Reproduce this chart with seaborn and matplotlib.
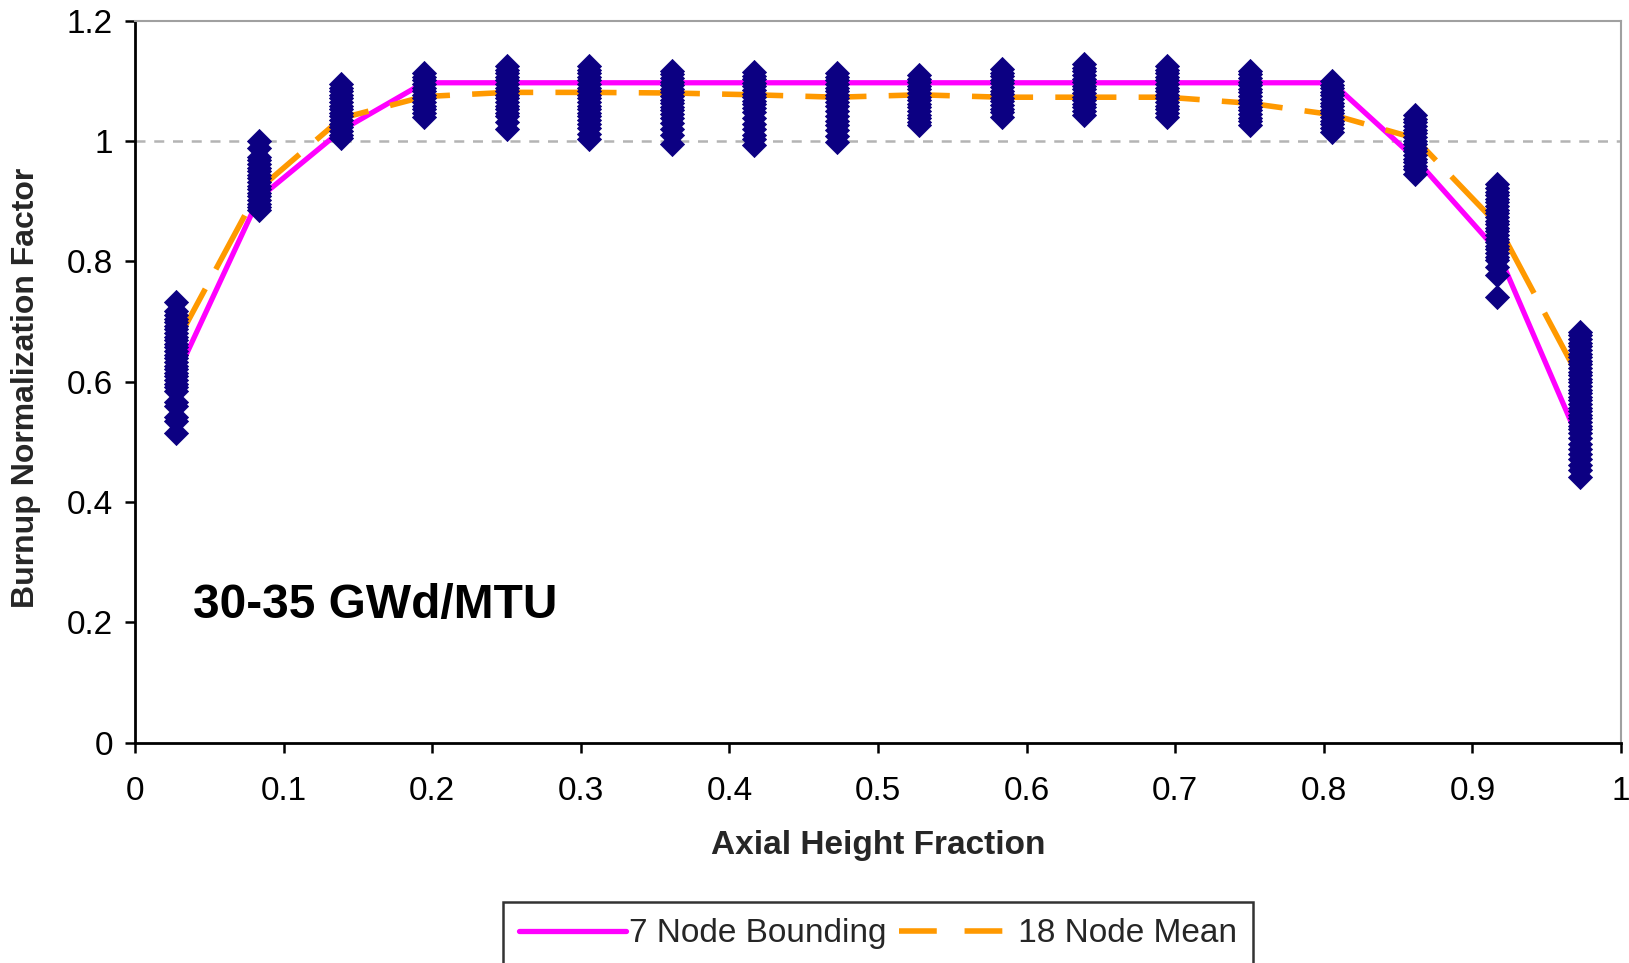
import pandas as pd
import matplotlib
matplotlib.use("Agg")
import matplotlib.pyplot as plt
import seaborn as sns
from matplotlib.lines import Line2D

# axial node centres (18 node model)
node_x = [0.0278, 0.0833, 0.1389, 0.1944, 0.2500, 0.3056, 0.3611, 0.4167, 0.4722,
          0.5278, 0.5833, 0.6389, 0.6944, 0.7500, 0.8056, 0.8611, 0.9167, 0.9722]

# individual assembly normalization factors, read per node
node_01 = [0.733, 0.717, 0.711, 0.705, 0.699, 0.693, 0.687, 0.681, 0.675, 0.669, 0.663, 0.657,
           0.651, 0.645, 0.639, 0.633, 0.627, 0.621, 0.615, 0.609, 0.603, 0.597, 0.591, 0.584,
           0.567, 0.559, 0.542, 0.534, 0.515]
node_02 = [1.001, 0.989, 0.974, 0.968, 0.962, 0.956, 0.950, 0.944, 0.938, 0.932, 0.926, 0.920,
           0.914, 0.908, 0.902, 0.896, 0.890, 0.886]
node_03 = [1.095, 1.089, 1.083, 1.077, 1.071, 1.065, 1.059, 1.053, 1.047, 1.041, 1.035, 1.029,
           1.023, 1.017, 1.011, 1.005]
node_04 = [1.113, 1.107, 1.101, 1.095, 1.089, 1.083, 1.077, 1.071, 1.065, 1.059, 1.053, 1.047, 1.040]
node_05 = [1.125, 1.119, 1.113, 1.107, 1.101, 1.095, 1.089, 1.083, 1.077, 1.071, 1.065, 1.059,
           1.053, 1.047, 1.041, 1.032, 1.020]
node_06 = [1.125, 1.119, 1.113, 1.107, 1.101, 1.095, 1.089, 1.083, 1.077, 1.071, 1.065, 1.059,
           1.053, 1.047, 1.041, 1.035, 1.029, 1.022, 1.012, 1.003]
node_07 = [1.117, 1.111, 1.105, 1.099, 1.093, 1.087, 1.081, 1.075, 1.069, 1.063, 1.057, 1.051,
           1.045, 1.039, 1.030, 1.020, 1.010, 0.996]
node_08 = [1.115, 1.109, 1.103, 1.097, 1.091, 1.085, 1.079, 1.073, 1.067, 1.061, 1.055, 1.048,
           1.038, 1.029, 1.020, 1.011, 1.003, 0.993]
node_09 = [1.113, 1.107, 1.101, 1.095, 1.089, 1.083, 1.077, 1.071, 1.065, 1.058, 1.050, 1.042,
           1.034, 1.026, 1.018, 1.009, 0.998]
node_10 = [1.110, 1.104, 1.098, 1.092, 1.086, 1.080, 1.074, 1.068, 1.062, 1.056, 1.050, 1.044,
           1.038, 1.032, 1.027]
node_11 = [1.120, 1.114, 1.108, 1.102, 1.096, 1.090, 1.084, 1.078, 1.072, 1.066, 1.060, 1.054,
           1.048, 1.040]
node_12 = [1.128, 1.122, 1.116, 1.110, 1.104, 1.098, 1.092, 1.086, 1.080, 1.074, 1.068, 1.062,
           1.056, 1.050, 1.044]
node_13 = [1.125, 1.119, 1.113, 1.107, 1.101, 1.095, 1.089, 1.083, 1.077, 1.071, 1.065, 1.059,
           1.053, 1.047, 1.040]
node_14 = [1.117, 1.111, 1.105, 1.099, 1.093, 1.087, 1.081, 1.075, 1.069, 1.063, 1.057, 1.051,
           1.045, 1.039, 1.033, 1.027]
node_15 = [1.100, 1.094, 1.088, 1.082, 1.076, 1.070, 1.064, 1.058, 1.052, 1.046, 1.040, 1.034,
           1.028, 1.022, 1.015]
node_16 = [1.043, 1.037, 1.031, 1.025, 1.019, 1.013, 1.007, 1.001, 0.995, 0.989, 0.983, 0.977,
           0.971, 0.965, 0.959, 0.953, 0.946]
node_17 = [0.928, 0.922, 0.916, 0.910, 0.904, 0.898, 0.892, 0.886, 0.880, 0.874, 0.868, 0.862,
           0.856, 0.850, 0.844, 0.838, 0.832, 0.826, 0.820, 0.814, 0.808, 0.802, 0.791, 0.778,
           0.741]
node_18 = [0.683, 0.677, 0.671, 0.665, 0.659, 0.653, 0.647, 0.641, 0.635, 0.629, 0.623, 0.617,
           0.611, 0.605, 0.599, 0.593, 0.587, 0.581, 0.575, 0.569, 0.563, 0.557, 0.551, 0.545,
           0.539, 0.533, 0.527, 0.521, 0.515, 0.506, 0.497, 0.489, 0.480, 0.471, 0.462, 0.453,
           0.442]

# profile lines
bounding_y = [0.610, 0.905, 1.018, 1.097, 1.097, 1.097, 1.097, 1.097, 1.097,
              1.097, 1.097, 1.097, 1.097, 1.097, 1.097, 0.972, 0.818, 0.500]
mean_y = [0.665, 0.920, 1.038, 1.074, 1.081, 1.081, 1.080, 1.077, 1.073,
          1.077, 1.073, 1.073, 1.073, 1.063, 1.044, 1.005, 0.862, 0.605]

nodes = [node_01, node_02, node_03, node_04, node_05, node_06, node_07, node_08, node_09,
         node_10, node_11, node_12, node_13, node_14, node_15, node_16, node_17, node_18]
pts = pd.DataFrame(
    [(x, v) for x, vals in zip(node_x, nodes) for v in vals], columns=["x", "factor"]
)

sns.set_theme(style="white")
plt.rcParams["font.family"] = ["Liberation Sans", "DejaVu Sans"]

fig = plt.figure(figsize=(16.29, 9.63), dpi=100)
ax = fig.add_axes([0.0829, 0.2287, 0.9951 - 0.0829, 0.9784 - 0.2287])

MAGENTA = "#FF00FF"
ORANGE = "#FF9900"
NAVY = "#0C0082"

ax.axhline(1.0, color="#B4B4B4", lw=1.8, ls=(0, (4, 3.5)), zorder=1)
sns.lineplot(x=node_x, y=bounding_y, color=MAGENTA, lw=3.8, ax=ax, zorder=2)
sns.lineplot(x=node_x, y=mean_y, color=ORANGE, lw=4.0, ax=ax, zorder=2,
             linestyle=(0, (11, 4)))
sns.scatterplot(data=pts, x="x", y="factor", marker="D", s=150, color=NAVY,
                edgecolor=NAVY, linewidth=0.6, ax=ax, zorder=3)

ax.set_xlim(0, 1)
ax.set_ylim(0, 1.2)
ax.set_xticks([0, 0.1, 0.2, 0.3, 0.4, 0.5, 0.6, 0.7, 0.8, 0.9, 1])
ax.set_xticklabels(["0", "0.1", "0.2", "0.3", "0.4", "0.5", "0.6", "0.7", "0.8", "0.9", "1"])
ax.set_yticks([0, 0.2, 0.4, 0.6, 0.8, 1.0, 1.2])
ax.set_yticklabels(["0", "0.2", "0.4", "0.6", "0.8", "1", "1.2"])
ax.tick_params(axis="x", direction="out", length=7, width=1.8, pad=17,
               labelsize=24, colors="black", bottom=True)
ax.tick_params(axis="y", direction="out", length=7, width=1.8, pad=9,
               labelsize=24, colors="black", left=True)
ax.set_xlabel("")
ax.set_ylabel("")
for side in ["left", "bottom"]:
    ax.spines[side].set_color("black")
    ax.spines[side].set_linewidth(2)
for side in ["top", "right"]:
    ax.spines[side].set_color("#A0A0A0")
    ax.spines[side].set_linewidth(1.5)

ax.text(0.039, 0.207, "30-35 GWd/MTU", fontsize=34.5, fontweight="bold", color="black")

fig.text(0.539, 0.1225, "Axial Height Fraction", fontsize=24, fontweight="bold",
         ha="center", va="center")
fig.text(0.016, 0.5976, "Burnup Normalization Factor", fontsize=23, fontweight="bold",
         rotation=90, ha="center", va="center")

handles = [
    Line2D([], [], color=MAGENTA, lw=3.8),
    Line2D([], [], color=ORANGE, lw=4.0, ls=(0, (6.8, 5))),
]
leg = fig.legend(handles, ["7 Node Bounding", " 18 Node Mean"], ncol=2,
                 loc="lower center", bbox_to_anchor=(0.539, -0.003), fontsize=24,
                 frameon=True, fancybox=False, edgecolor="black", handlelength=3.2,
                 handletextpad=0.1, columnspacing=0.35, borderpad=0.5,
                 borderaxespad=0)
leg.get_frame().set_linewidth(1.8)

fig.savefig("out.png", dpi=100)
